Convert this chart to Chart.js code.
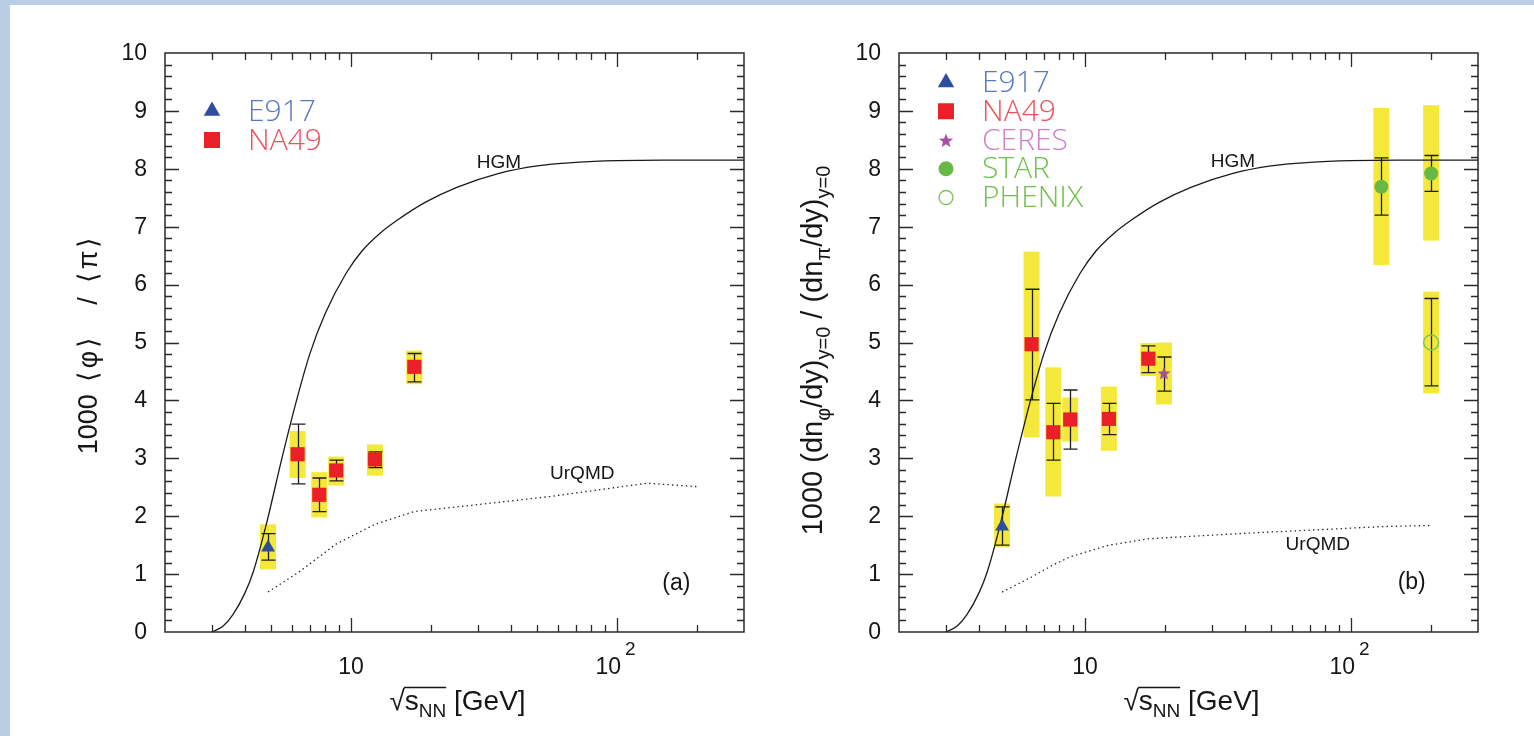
<!DOCTYPE html>
<html>
<head>
<meta charset="utf-8">
<title>phi/pi energy dependence</title>
<script src="https://cdn.jsdelivr.net/npm/chart.js@4.4.1/dist/chart.umd.min.js"></script>
<style>
  html, body { margin: 0; padding: 0; background: #fff; }
  body { width: 1534px; height: 736px; position: relative; overflow: hidden; }
  .band-top { position: absolute; left: 0; top: 0; width: 1534px; height: 5px; background: #b9cde5; }
  .band-left { position: absolute; left: 0; top: 0; width: 10px; height: 736px; background: #b9cde5; }
  canvas { position: absolute; top: 0; }
</style>
</head>
<body>
<canvas id="chartA" width="767" height="736" style="left:0"></canvas>
<canvas id="chartB" width="767" height="736" style="left:767px"></canvas>
<div class="band-top"></div>
<div class="band-left"></div>
<script>
// Axis ticks / labels
const yTickLabels = ['0', '1', '2', '3', '4', '5', '6', '7', '8', '9', '10'];
const xMajorTicks = [10, 100];
const xTickLabels = [['10', ''], ['10', '2']];

// Beam energies (sqrt(s_NN), GeV)
const e917Energy = [4.88];
const na49Energy = [6.3, 7.6, 8.8, 12.3, 17.3];
const ceresEnergy = [19.8];
const starEnergy = [130, 200];
const phenixEnergy = [200];

// (a) 1000 <phi>/<pi>, full phase space
const aE917 = [1.46];
const aE917Stat = [[1.24, 1.70]];
const aE917Sys = [[1.08, 1.86]];
const aNa49 = [3.07, 2.37, 2.79, 2.98, 4.58];
const aNa49Stat = [[2.56, 3.59], [2.08, 2.66], [2.61, 2.97], [2.84, 3.11], [4.32, 4.81]];
const aNa49Sys = [[2.66, 3.47], [1.98, 2.76], [2.53, 3.03], [2.70, 3.24], [4.28, 4.86]];

// (b) 1000 (dn_phi/dy)/(dn_pi/dy) at midrapidity
const bE917 = [1.82];
const bE917Stat = [[1.50, 2.16]];
const bE917Sys = [[1.46, 2.22]];
const bNa49 = [4.97, 3.45, 3.67, 3.68, 4.72];
const bNa49Stat = [[4.01, 5.92], [2.97, 3.95], [3.16, 4.18], [3.41, 3.95], [4.48, 4.94]];
const bNa49Sys = [[3.36, 6.57], [2.34, 4.57], [3.29, 4.05], [3.13, 4.24], [4.42, 4.99]];
const bCeres = [4.47];
const bCeresStat = [[4.16, 4.75]];
const bCeresSys = [[3.93, 5.00]];
const bStar = [7.69, 7.92];
const bStarStat = [[7.20, 8.19], [7.61, 8.23]];
const bStarSys = [[6.34, 9.05], [6.76, 9.10]];
const bPhenix = [5.00];
const bPhenixStat = [[4.25, 5.76]];
const bPhenixSys = [[4.12, 5.88]];

// Model curves
const hgmEnergy = [3.0, 3.3, 3.6, 4.0, 4.3, 4.8, 5.5, 6.2, 7.0, 8.0, 9.6, 11, 12.8, 15, 19, 25, 36, 50, 70, 100, 150, 300];
const hgmRatio = [0, 0.1, 0.3, 0.68, 1.05, 1.85, 3.0, 3.95, 4.8, 5.5, 6.2, 6.58, 6.88, 7.12, 7.42, 7.68, 7.92, 8.05, 8.11, 8.14, 8.15, 8.15];
const urqmdEnergyA = [4.88, 6.3, 7.6, 8.8, 12.3, 17.3, 25, 56, 130, 200];
const urqmdA = [0.69, 1.02, 1.30, 1.52, 1.86, 2.08, 2.16, 2.34, 2.57, 2.51];
const urqmdEnergyB = [4.88, 6.3, 7.6, 8.8, 12.3, 17.3, 38, 64, 130, 200];
const urqmdB = [0.69, 0.95, 1.16, 1.30, 1.50, 1.61, 1.70, 1.75, 1.82, 1.84];

const FONT = '"Liberation Sans", Arial, Helvetica, sans-serif';
const LEGEND_FONT = '"Open Sans", "Liberation Sans", sans-serif';
const INK = '#161616';
const FRAME = '#2a2a2a';
const YELLOW = '#f4e93a';
const BLUE = '#2d4e9e', RED = '#ea1f27', PURPLE = '#a44fa5', GREEN = '#69b845';

function pts(xs, ys) {
    return xs.map((x, i) => ({ x: x, y: ys[i] }));
}

function starPath(g, r) {
    g.beginPath();
    for (let k = 0; k < 10; k++) {
        const a = -Math.PI / 2 + k * Math.PI / 5;
        const rr = k % 2 ? r * 0.42 : r;
        g.lineTo(rr * Math.cos(a), rr * Math.sin(a));
    }
    g.closePath();
}

function starImage(r, color) {
    const c = document.createElement('canvas');
    c.width = c.height = Math.ceil(r * 2 + 2);
    const g = c.getContext('2d');
    g.translate(c.width / 2, c.height / 2 + r * 0.1);
    starPath(g, r);
    g.fillStyle = color;
    g.fill();
    return c;
}

// draws a run of [text, size, shift, gapAfter] pieces centred on x,
// returns the start x of each piece
function drawRich(ctx, parts, x, y) {
    let w = 0;
    parts.forEach(p => {
        ctx.font = p[1] + 'px ' + FONT;
        w += ctx.measureText(p[0]).width + (p[3] || 0);
    });
    let cx = x - w / 2;
    const starts = [];
    parts.forEach(p => {
        ctx.font = p[1] + 'px ' + FONT;
        starts.push(cx);
        ctx.fillText(p[0], cx, y + (p[2] || 0));
        cx += ctx.measureText(p[0]).width + (p[3] || 0);
    });
    starts.push(cx);
    return starts;
}

function drawMarker(ctx, kind, x, y, color) {
    ctx.save();
    ctx.fillStyle = color;
    ctx.strokeStyle = color;
    if (kind === 'triangle') {
        const r = 9.5;
        ctx.beginPath();
        ctx.moveTo(x, y - r);
        ctx.lineTo(x + r * 0.866, y + r * 0.5);
        ctx.lineTo(x - r * 0.866, y + r * 0.5);
        ctx.closePath();
        ctx.fill();
    } else if (kind === 'square') {
        ctx.fillRect(x - 8, y - 8, 16, 16);
    } else if (kind === 'star') {
        ctx.translate(x, y + 1);
        starPath(ctx, 7.5);
        ctx.fill();
    } else if (kind === 'dot') {
        ctx.beginPath();
        ctx.arc(x, y, 7.5, 0, Math.PI * 2);
        ctx.fill();
    } else if (kind === 'ring') {
        ctx.lineWidth = 1.4;
        ctx.beginPath();
        ctx.arc(x, y, 7, 0, Math.PI * 2);
        ctx.stroke();
    }
    ctx.restore();
}

// Frame, inward ticks, labels, error boxes and legend for each panel
const panelDecor = {
    id: 'panelDecor',
    beforeDatasetsDraw(chart) {
        const { ctx, scales: { x, y } } = chart;
        ctx.save();
        chart.data.datasets.forEach(ds => {
            if (!ds.sys) return;
            ds.data.forEach((p, i) => {
                const px = x.getPixelForValue(p.x);
                const top = y.getPixelForValue(ds.sys[i][1]);
                const bot = y.getPixelForValue(ds.sys[i][0]);
                ctx.fillStyle = YELLOW;
                ctx.fillRect(px - 8, top, 16, bot - top);
            });
        });
        ctx.strokeStyle = '#1e1e1e';
        ctx.lineWidth = 1.3;
        chart.data.datasets.forEach(ds => {
            if (!ds.stat) return;
            ds.data.forEach((p, i) => {
                const px = Math.round(x.getPixelForValue(p.x)) + 0.5;
                const top = y.getPixelForValue(ds.stat[i][1]);
                const bot = y.getPixelForValue(ds.stat[i][0]);
                ctx.beginPath();
                ctx.moveTo(px, top);
                ctx.lineTo(px, bot);
                ctx.moveTo(px - 7, top);
                ctx.lineTo(px + 7, top);
                ctx.moveTo(px - 7, bot);
                ctx.lineTo(px + 7, bot);
                ctx.stroke();
            });
        });
        ctx.restore();
    },
    afterDraw(chart, args, opts) {
        const { ctx, chartArea: a, scales: { x, y } } = chart;
        ctx.save();

        // frame
        ctx.strokeStyle = FRAME;
        ctx.lineWidth = 1.5;
        ctx.strokeRect(a.left, a.top, a.right - a.left, a.bottom - a.top);

        // x ticks on bottom and top
        ctx.lineWidth = 1.3;
        ctx.beginPath();
        for (let d = 1; d <= 100; d *= 10) {
            for (let m = 1; m <= 9; m++) {
                const v = m * d;
                if (v <= x.min || v >= x.max) continue;
                const px = Math.round(x.getPixelForValue(v)) + 0.5;
                const len = m === 1 ? 14 : 7;
                ctx.moveTo(px, a.bottom);
                ctx.lineTo(px, a.bottom - len);
                ctx.moveTo(px, a.top);
                ctx.lineTo(px, a.top + len);
            }
        }
        // y ticks on left and right
        for (let k = 1; k < 50; k++) {
            const py = Math.round(y.getPixelForValue(k * 0.2)) + 0.5;
            const len = k % 5 === 0 ? 14 : 7;
            ctx.moveTo(a.left, py);
            ctx.lineTo(a.left + len, py);
            ctx.moveTo(a.right, py);
            ctx.lineTo(a.right - len, py);
        }
        ctx.stroke();

        // y tick labels
        ctx.fillStyle = INK;
        ctx.font = '23px ' + FONT;
        ctx.textAlign = 'right';
        ctx.textBaseline = 'middle';
        yTickLabels.forEach(t => {
            ctx.fillText(t, a.left - 18, y.getPixelForValue(Number(t)) + 0.5);
        });

        // x tick labels (decades)
        ctx.textBaseline = 'alphabetic';
        xMajorTicks.forEach((v, i) => {
            const px = x.getPixelForValue(v);
            const [base, sup] = xTickLabels[i];
            ctx.font = '23px ' + FONT;
            if (!sup) {
                ctx.textAlign = 'center';
                ctx.fillText(base, px, a.bottom + 42);
            } else {
                ctx.textAlign = 'right';
                ctx.fillText(base, px + 4, a.bottom + 42);
                ctx.textAlign = 'left';
                ctx.font = '19px ' + FONT;
                ctx.fillText(sup, px + 8, a.bottom + 23);
            }
        });

        // x axis title: sqrt(s_NN) [GeV]
        ctx.textAlign = 'left';
        const base = a.bottom + 78;
        const xs = drawRich(ctx, [['√', 28, 0], ['s', 28, 0], ['NN', 19, 7], [' [GeV]', 28, 0]],
            (a.left + a.right) / 2 + 3, base);
        ctx.lineWidth = 1.3;
        ctx.strokeStyle = INK;
        ctx.beginPath();
        ctx.moveTo(xs[1] - 1, base - 22.5);
        ctx.lineTo(xs[3], base - 22.5);
        ctx.stroke();

        // y axis title, rotated
        ctx.save();
        ctx.translate(a.left - opts.yTitleOffset, (a.top + a.bottom) / 2 + opts.yTitleShift);
        ctx.rotate(-Math.PI / 2);
        drawRich(ctx, opts.yTitle, 0, 0);
        ctx.restore();

        // model and panel labels
        ctx.textAlign = 'center';
        ctx.textBaseline = 'middle';
        opts.notes.forEach(n => {
            ctx.font = n.size + 'px ' + FONT;
            ctx.fillText(n.text, x.getPixelForValue(n.x), y.getPixelForValue(n.y));
        });

        // legend
        ctx.textAlign = 'left';
        ctx.font = '300 30px ' + LEGEND_FONT;
        opts.legend.forEach((row, i) => {
            const ly = a.top + opts.legendTop + i * opts.legendStep;
            const lx = a.left + 47;
            drawMarker(ctx, row.marker, lx, ly, row.markerColor);
            ctx.fillStyle = row.color;
            ctx.fillText(row.label, lx + 36, ly + 1);
        });

        ctx.restore();
    }
};

function hgmSet() {
    return {
        label: 'HGM', data: pts(hgmEnergy, hgmRatio), showLine: true,
        borderColor: '#1a1a1a', borderWidth: 1.3, pointRadius: 0,
        cubicInterpolationMode: 'monotone'
    };
}

function urqmdSet(xs, ys) {
    return {
        label: 'UrQMD', data: pts(xs, ys), showLine: true,
        borderColor: '#222', borderWidth: 1.3, borderDash: [1.4, 3.2],
        pointRadius: 0, tension: 0
    };
}

function baseOptions(padLeft, padRight, decor) {
    return {
        responsive: false,
        animation: false,
        events: [],
        layout: { padding: { left: padLeft, right: padRight, top: 53, bottom: 104 } },
        scales: {
            x: { type: 'logarithmic', min: 2, max: 300, display: false },
            y: { type: 'linear', min: 0, max: 10, display: false }
        },
        plugins: { legend: { display: false }, tooltip: { enabled: false }, panelDecor: decor }
    };
}

// Panel (a)
new Chart(document.getElementById('chartA'), {
    type: 'scatter',
    plugins: [panelDecor],
    data: {
        datasets: [
            { label: 'E917', data: pts(e917Energy, aE917), stat: aE917Stat, sys: aE917Sys,
              pointStyle: 'triangle', pointRadius: 8, backgroundColor: BLUE, borderWidth: 0 },
            { label: 'NA49', data: pts(na49Energy, aNa49), stat: aNa49Stat, sys: aNa49Sys,
              pointStyle: 'rect', pointRadius: 10, backgroundColor: RED, borderWidth: 0 },
            hgmSet(),
            urqmdSet(urqmdEnergyA, urqmdA)
        ]
    },
    options: baseOptions(165, 23, {
        yTitleOffset: 68,
        yTitleShift: 3,
        yTitle: [['1000', 27, 0, 12], ['⟨', 27, 0, 3], ['φ', 27, 0, 3], ['⟩', 27, 0, 32],
                 ['/', 27, 0, 14], ['⟨', 27, 0, 3], ['π', 27, 0, 3], ['⟩', 27, 0, 0]],
        notes: [
            { text: 'HGM', x: 36, y: 8.1, size: 19 },
            { text: 'UrQMD', x: 74, y: 2.73, size: 19 },
            { text: '(a)', x: 167, y: 0.84, size: 23 }
        ],
        legendTop: 58, legendStep: 29,
        legend: [
            { label: 'E917', marker: 'triangle', markerColor: BLUE, color: '#5a78c2' },
            { label: 'NA49', marker: 'square', markerColor: RED, color: '#f1505a' }
        ]
    })
});

// Panel (b)
new Chart(document.getElementById('chartB'), {
    type: 'scatter',
    plugins: [panelDecor],
    data: {
        datasets: [
            { label: 'E917', data: pts(e917Energy, bE917), stat: bE917Stat, sys: bE917Sys,
              pointStyle: 'triangle', pointRadius: 8, backgroundColor: BLUE, borderWidth: 0 },
            { label: 'NA49', data: pts(na49Energy, bNa49), stat: bNa49Stat, sys: bNa49Sys,
              pointStyle: 'rect', pointRadius: 10, backgroundColor: RED, borderWidth: 0 },
            { label: 'CERES', data: pts(ceresEnergy, bCeres), stat: bCeresStat, sys: bCeresSys,
              pointStyle: starImage(7, PURPLE), pointRadius: 7 },
            { label: 'STAR', data: pts(starEnergy, bStar), stat: bStarStat, sys: bStarSys,
              pointStyle: 'circle', pointRadius: 7, backgroundColor: GREEN, borderWidth: 0 },
            { label: 'PHENIX', data: pts(phenixEnergy, bPhenix), stat: bPhenixStat, sys: bPhenixSys,
              pointStyle: 'circle', pointRadius: 7.5, backgroundColor: 'rgba(0,0,0,0)',
              borderColor: '#7cc657', borderWidth: 1.5 },
            hgmSet(),
            urqmdSet(urqmdEnergyB, urqmdB)
        ]
    },
    options: baseOptions(132, 56, {
        yTitleOffset: 77,
        yTitleShift: 8,
        yTitle: [['1000 (dn', 29, 0], ['φ', 20, 8], ['/dy)', 29, 0], ['y=0', 20, 8],
                 [' / (dn', 29, 0], ['π', 20, 8], ['/dy)', 29, 0], ['y=0', 20, 8]],
        notes: [
            { text: 'HGM', x: 36, y: 8.12, size: 19 },
            { text: 'UrQMD', x: 75, y: 1.5, size: 19 },
            { text: '(b)', x: 169, y: 0.86, size: 23 }
        ],
        legendTop: 29.5, legendStep: 28.75,
        legend: [
            { label: 'E917', marker: 'triangle', markerColor: BLUE, color: '#5a78c2' },
            { label: 'NA49', marker: 'square', markerColor: RED, color: '#f1505a' },
            { label: 'CERES', marker: 'star', markerColor: PURPLE, color: '#d07fcb' },
            { label: 'STAR', marker: 'dot', markerColor: GREEN, color: '#6fc24d' },
            { label: 'PHENIX', marker: 'ring', markerColor: '#7cc657', color: '#6fc24d' }
        ]
    })
});
</script>
</body>
</html>
